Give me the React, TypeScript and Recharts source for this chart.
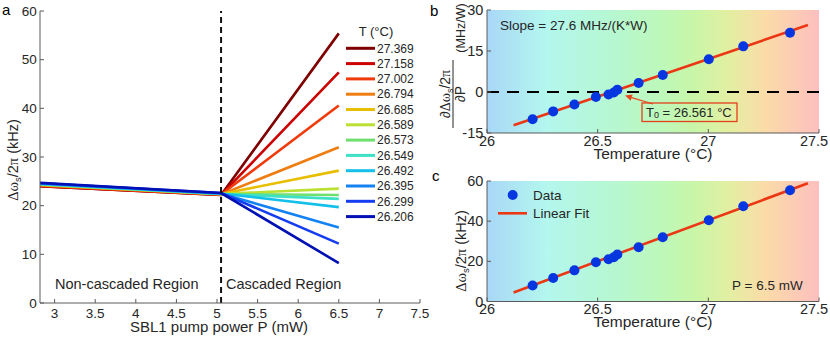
import React from 'react';
import {
  LineChart,
  Line,
  XAxis,
  YAxis,
  ReferenceLine,
  ComposedChart,
  Scatter,
  ReferenceArea,
} from 'recharts';

// ---------- data ----------
const tempLabels = ['27.369', '27.158', '27.002', '26.794', '26.685', '26.589', '26.573', '26.549', '26.492', '26.395', '26.299', '26.206'];
const tempValues = [27.369, 27.158, 27.002, 26.794, 26.685, 26.589, 26.573, 26.549, 26.492, 26.395, 26.299, 26.206];
const lineColors = ['#7f0000', '#cc0000', '#f03a0a', '#ee7d12', '#e8be00', '#bbe032', '#6fe06f', '#3ee0c6', '#14bfea', '#1482f0', '#143cf0', '#0010b4'];

const powerPoints = [2.82, 5.05, 6.5];
const shiftStart = [24.0, 24.0, 24.1, 24.2, 24.3, 24.3, 24.4, 24.4, 24.5, 24.6, 24.6, 24.7];
const shiftJunction = [22.2, 22.2, 22.3, 22.3, 22.4, 22.4, 22.4, 22.4, 22.5, 22.5, 22.6, 22.6];
const shiftEnd = [55.4, 47.4, 40.6, 32.0, 27.2, 23.5, 22.2, 21.4, 19.7, 15.5, 12.2, 8.2];
const thresholdPower = 5.05;

const slopeValues = [21.7, 16.7, 12.0, 6.2, 3.3, 0.8, -0.2, -0.9, -1.8, -4.6, -7.1, -10.0];
const shiftAt65 = [55.4, 47.4, 40.5, 32.0, 27.0, 23.4, 22.0, 21.0, 19.5, 15.5, 11.7, 8.0];
const fitTemps = [26.12, 27.45];
const fitSlopeValues = [-12.2, 24.5];
const fitShiftValues = [4.5, 58.9];

const xTicksA = [3, 3.5, 4, 4.5, 5, 5.5, 6, 6.5, 7, 7.5];
const yTicksA = [0, 10, 20, 30, 40, 50, 60];
const xTicksT = [26, 26.5, 27, 27.5];
const yTicksB = [-15, 0, 15, 30];
const yTicksC = [0, 20, 40, 60];

// ---------- derived tables ----------
const seriesA = tempValues.map((_, i) => [
  { p: powerPoints[0], v: shiftStart[i] },
  { p: powerPoints[1], v: shiftJunction[i] },
  { p: powerPoints[2], v: shiftEnd[i] },
]);
const pointsB = tempValues.map((t, i) => ({ t, v: slopeValues[i] }));
const pointsC = tempValues.map((t, i) => ({ t, v: shiftAt65[i] }));
const fitB = fitTemps.map((t, i) => ({ t, v: fitSlopeValues[i] }));
const fitC = fitTemps.map((t, i) => ({ t, v: fitShiftValues[i] }));

// ---------- styles ----------
const FONT = '"Liberation Sans", Arial, Helvetica, sans-serif';
const SERIF = '"Liberation Serif", serif';
const AX = '#5a5a5a';
const TXT = '#262626';
const BLUE = '#0636e0';
const RED = '#eb3714';

const gradStops = [
  ['0%', '#a9d7f7'],
  ['18%', '#b3f7ee'],
  ['36%', '#b6f7d4'],
  ['52%', '#bdf8bb'],
  ['62%', '#c8f6a8'],
  ['73%', '#e3efa2'],
  ['84%', '#fbdba8'],
  ['100%', '#fcbfbf'],
];

const Dot = (props: any) => <circle cx={props.cx} cy={props.cy} r={5} fill={BLUE} />;

const TempTick = (props: any) => {
  const v = props.payload.value;
  const shift = v === 27.5 ? -5 : 0;
  return (
    <text x={props.x + shift} y={props.y} dy="0.71em" textAnchor="middle" fill={TXT} fontSize={14.5}>
      {String(v)}
    </text>
  );
};

function Grad({ id }: { id: string }) {
  return (
    <defs>
      <linearGradient id={id} x1="0" y1="0" x2="1" y2="0">
        {gradStops.map(([o, c]) => (
          <stop key={o} offset={o} stopColor={c} />
        ))}
      </linearGradient>
    </defs>
  );
}

function PanelA() {
  return (
    <LineChart width={430} height={339} margin={{ top: 11, right: 10, bottom: 0, left: 0 }}>
      <XAxis
        type="number"
        dataKey="p"
        domain={[2.82, 7.5]}
        allowDataOverflow
        ticks={xTicksA}
        interval={0}
        height={36}
        tickSize={-4}
        tickMargin={9.4}
        axisLine={{ stroke: AX }}
        tickLine={{ stroke: AX }}
        tick={{ fill: TXT, fontSize: 13.5 }}
      />
      <XAxis
        xAxisId="top"
        orientation="top"
        type="number"
        domain={[2.82, 7.5]}
        allowDataOverflow
        ticks={xTicksA}
        interval={0}
        height={0}
        tickSize={-4}
        tick={false}
        axisLine={{ stroke: AX }}
        tickLine={{ stroke: AX }}
      />
      <YAxis
        type="number"
        domain={[0, 60]}
        allowDataOverflow
        ticks={yTicksA}
        interval={0}
        width={40}
        tickSize={-4}
        tickMargin={7.3}
        axisLine={{ stroke: AX }}
        tickLine={{ stroke: AX }}
        tick={{ fill: TXT, fontSize: 13.5 }}
      />
      <YAxis
        yAxisId="right"
        orientation="right"
        type="number"
        domain={[0, 60]}
        allowDataOverflow
        ticks={yTicksA}
        interval={0}
        width={0}
        tickSize={-4}
        tick={false}
        axisLine={{ stroke: AX }}
        tickLine={{ stroke: AX }}
      />
      {seriesA.map((d, i) => (
        <Line
          key={tempLabels[i]}
          data={d}
          dataKey="v"
          stroke={lineColors[i]}
          strokeWidth={2.6}
          dot={false}
          isAnimationActive={false}
        />
      ))}
      <ReferenceLine x={thresholdPower} stroke="#111" strokeWidth={2} strokeDasharray="6 4" />
    </LineChart>
  );
}

function PanelT({ id, height, top, plotH, yTicks, points, fit, dashedZero, tickMarginX }: any) {
  const bottomAxisH = height - top - plotH;
  const yDomain = [yTicks[0], yTicks[yTicks.length - 1]];
  return (
    <ComposedChart width={410} height={height} margin={{ top, right: 11, bottom: 0, left: 0 }}>
      <Grad id={id} />
      <XAxis
        type="number"
        dataKey="t"
        domain={[26, 27.5]}
        allowDataOverflow
        ticks={xTicksT}
        interval={0}
        height={bottomAxisH}
        tickSize={-4}
        tickMargin={tickMarginX}
        axisLine={{ stroke: AX }}
        tickLine={{ stroke: AX }}
        tick={TempTick}
      />
      <XAxis
        xAxisId="top"
        orientation="top"
        type="number"
        domain={[26, 27.5]}
        allowDataOverflow
        ticks={xTicksT}
        interval={0}
        height={0}
        tickSize={-4}
        tick={false}
        axisLine={{ stroke: AX }}
        tickLine={{ stroke: AX }}
      />
      <YAxis
        type="number"
        domain={yDomain}
        allowDataOverflow
        ticks={yTicks}
        interval={0}
        width={67}
        tickSize={-4}
        tickMargin={7.7}
        axisLine={{ stroke: AX }}
        tickLine={{ stroke: AX }}
        tick={{ fill: TXT, fontSize: 14.5 }}
      />
      <YAxis
        yAxisId="right"
        orientation="right"
        type="number"
        domain={yDomain}
        allowDataOverflow
        ticks={yTicks}
        interval={0}
        width={0}
        tickSize={-4}
        tick={false}
        axisLine={{ stroke: AX }}
        tickLine={{ stroke: AX }}
      />
      <ReferenceArea
        x1={26}
        x2={27.5}
        y1={yDomain[0]}
        y2={yDomain[1]}
        fill={`url(#${id})`}
        fillOpacity={1}
        stroke="none"
      />
      {dashedZero && <ReferenceLine y={0} stroke="#000" strokeWidth={2} strokeDasharray="12 8" />}
      <Line data={fit} dataKey="v" stroke={RED} strokeWidth={2.6} dot={false} isAnimationActive={false} />
      <Scatter data={points} dataKey="v" shape={Dot} isAnimationActive={false} />
    </ComposedChart>
  );
}

function Overlay() {
  const legendY0 = 48.3;
  const legendDy = 15.3;
  const tail = [653, 104];
  const tip = [625, 95.5];
  const dx = tip[0] - tail[0];
  const dy = tip[1] - tail[1];
  const L = Math.hypot(dx, dy);
  const ux = dx / L;
  const uy = dy / L;
  const bx = tip[0] - 7 * ux;
  const by = tip[1] - 7 * uy;
  const px = -uy;
  const py = ux;
  const head = `${tip[0]},${tip[1]} ${bx + 3.3 * px},${by + 3.3 * py} ${bx - 3.3 * px},${by - 3.3 * py}`;
  return (
    <svg
      width={830}
      height={339}
      style={{ position: 'absolute', left: 0, top: 0, pointerEvents: 'none', fontFamily: FONT }}
    >
      {/* panel letters */}
      <text x={2} y={15} fontSize={15} fill="#000">a</text>
      <text x={430} y={16} fontSize={15} fill="#000">b</text>
      <text x={432} y={181} fontSize={15} fill="#000">c</text>

      {/* panel a */}
      <text transform="translate(18,160) rotate(-90)" textAnchor="middle" fontSize={14.5} fill={TXT}>
        <tspan fontFamily={SERIF}>Δω</tspan>
        <tspan fontSize={9.5} dy={3}>s</tspan>
        <tspan dy={-3}>/2</tspan>
        <tspan fontFamily={SERIF}>π</tspan>
        <tspan> (kHz)</tspan>
      </text>
      <text x={219} y={332} textAnchor="middle" fontSize={15} fill={TXT}>SBL1 pump power P (mW)</text>
      <text x={55} y={289} fontSize={14.5} fill={TXT}>Non-cascaded Region</text>
      <text x={226} y={289} fontSize={14.5} fill={TXT}>Cascaded Region</text>
      <text x={376} y={36} textAnchor="middle" fontSize={13} fill={TXT}>T (°C)</text>
      {tempLabels.map((lab, i) => (
        <g key={lab}>
          <line x1={346} x2={375} y1={legendY0 + i * legendDy} y2={legendY0 + i * legendDy} stroke={lineColors[i]} strokeWidth={3} />
          <text x={377} y={legendY0 + i * legendDy + 4.2} fontSize={12} fill={TXT}>{lab}</text>
        </g>
      ))}

      {/* panel b */}
      <text x={500} y={30} fontSize={13.5} fill={TXT}>Slope = 27.6 MHz/(K*W)</text>
      <g transform="translate(453,94) rotate(-90)" fill={TXT}>
        <text x={0} y={-3} textAnchor="middle" fontSize={14}>
          <tspan>∂</tspan>
          <tspan fontFamily={SERIF}>Δω</tspan>
          <tspan fontSize={9} dy={2.5}>s</tspan>
          <tspan dy={-2.5}>/2</tspan>
          <tspan fontFamily={SERIF}>π</tspan>
        </text>
        <line x1={-34} x2={34} y1={0} y2={0} stroke={TXT} strokeWidth={1} />
        <text x={0} y={12} textAnchor="middle" fontSize={14}>∂P</text>
        <text x={66} y={11.5} textAnchor="middle" fontSize={12.5}>(MHz/W)</text>
      </g>
      <text x={653} y={159} textAnchor="middle" fontSize={15.5} fill={TXT}>Temperature (°C)</text>
      <line x1={tail[0]} y1={tail[1]} x2={bx} y2={by} stroke="#e8461e" strokeWidth={1.3} />
      <polygon points={head} fill="#e8461e" />
      <rect x={642} y={103} width={95} height={18.5} fill="none" stroke="#e3401c" strokeWidth={1.3} />
      <text x={646} y={117} fontSize={13} fill={TXT}>
        <tspan>T</tspan>
        <tspan fontSize={9} dy={1}>0</tspan>
        <tspan dy={-1}> = 26.561 °C</tspan>
      </text>

      {/* panel c */}
      <text transform="translate(466,251) rotate(-90)" textAnchor="middle" fontSize={14.5} fill={TXT}>
        <tspan fontFamily={SERIF}>Δω</tspan>
        <tspan fontSize={9.5} dy={3}>s</tspan>
        <tspan dy={-3}>/2</tspan>
        <tspan fontFamily={SERIF}>π</tspan>
        <tspan> (kHz)</tspan>
      </text>
      <text x={653} y={326.5} textAnchor="middle" fontSize={15.5} fill={TXT}>Temperature (°C)</text>
      <circle cx={512.7} cy={195} r={5} fill={BLUE} />
      <text x={533} y={200} fontSize={13.5} fill={TXT}>Data</text>
      <line x1={498} x2={527} y1={213.3} y2={213.3} stroke={RED} strokeWidth={2.6} />
      <text x={533} y={218} fontSize={13.5} fill={TXT}>Linear Fit</text>
      <text x={732} y={290} fontSize={13.5} fill={TXT}>P = 6.5 mW</text>
    </svg>
  );
}

export default function App() {
  return (
    <div
      style={{
        position: 'absolute',
        left: 0,
        top: 0,
        width: 830,
        height: 339,
        background: '#fff',
        fontFamily: FONT,
        overflow: 'hidden',
      }}
    >
      <div style={{ position: 'absolute', left: 0, top: 0 }}>
        <PanelA />
      </div>
      <div style={{ position: 'absolute', left: 420, top: 0 }}>
        <PanelT
          id="gradB"
          height={170}
          top={10}
          plotH={123}
          yTicks={yTicksB}
          points={pointsB}
          fit={fitB}
          dashedZero
          tickMarginX={6.7}
        />
      </div>
      <div style={{ position: 'absolute', left: 420, top: 165 }}>
        <PanelT
          id="gradC"
          height={174}
          top={16}
          plotH={120.5}
          yTicks={yTicksC}
          points={pointsC}
          fit={fitC}
          dashedZero={false}
          tickMarginX={6.2}
        />
      </div>
      <Overlay />
    </div>
  );
}
